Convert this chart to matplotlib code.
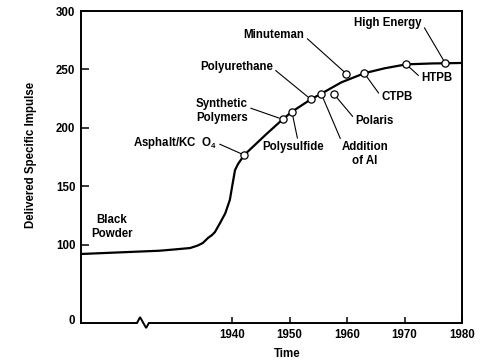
import matplotlib
matplotlib.use("Agg")
import matplotlib.pyplot as plt

# curve (year, delivered specific impulse)
curve_years = [1913.7, 1927.4, 1930.0, 1932.7, 1934.0, 1934.9, 1935.8, 1936.5,
               1937.0, 1937.9, 1938.8, 1939.6, 1940.0, 1940.5, 1941.0, 1942.1,
               1946.0, 1948.8, 1950.4, 1953.7, 1955.5, 1959.0, 1963.0, 1966.5,
               1970.3, 1975.0, 1977.1, 1980.0]
curve_impulse = [92.3, 95.1, 96.2, 97.4, 99.5, 101.7, 106.0, 108.5,
                 111.0, 118.8, 127.0, 138.5, 150.0, 164.0, 169.0, 176.9,
                 195.0, 207.4, 213.9, 224.5, 229.3, 239.0, 246.8, 251.0,
                 254.4, 255.2, 255.3, 255.6]

# milestones (open circles)
labels = ["Asphalt/KC  O$_4$", "Synthetic\nPolymers", "Polysulfide", "Polyurethane",
          "Addition\nof Al", "Polaris", "Minuteman", "CTPB", "HTPB", "High Energy"]
years = [1942.1, 1948.8, 1950.4, 1953.7, 1955.5, 1957.7, 1959.9, 1963.0, 1970.3, 1977.1]
impulse = [176.9, 207.4, 213.9, 224.5, 229.3, 229.0, 246.2, 246.8, 254.4, 255.3]

# where each label sits: (x, y, ha, relpos of leader start)
label_pos = [
    (1937.35, 187.2, "right", (1, 0.5)),
    (1933.7, 214.5, "left", (1, 0.65)),
    (1950.6, 183.8, "center", (0.58, 1)),
    (1940.75, 252.1, "center", (1, 0.4)),
    (1963.1, 177.8, "center", (0, 1)),
    (1964.8, 206.0, "center", (0, 0.6)),
    (1947.3, 279.5, "center", (1, 0.4)),
    (1968.7, 226.5, "center", (0, 0.5)),
    (1975.6, 242.7, "center", (0, 0.5)),
    (1967.1, 289.7, "center", (1, 0.5)),
]

ytick_vals = [36.5, 100, 150, 200, 250, 300]
ytick_labels = ["0", "100", "150", "200", "250", "300"]
xtick_vals = [1940, 1950, 1960, 1970, 1980]

plt.rcParams["font.family"] = ["Liberation Sans", "DejaVu Sans"]
plt.rcParams["font.weight"] = "bold"
plt.rcParams["mathtext.default"] = "regular"
fs = 8.3

fig = plt.figure(figsize=(4.8, 3.62), dpi=100)
ax = fig.add_axes([0.16875, 0.1077, 0.79375, 0.8619])

ax.plot(curve_years, curve_impulse, color="black", lw=1.6, zorder=3)
ax.plot(years, impulse, "o", ms=5.2, mfc="white", mec="black", mew=0.9, zorder=5)

for lab, x, y, (tx, ty, ha, rp) in zip(labels, years, impulse, label_pos):
    ax.annotate(lab, xy=(x, y), xytext=(tx, ty), ha=ha, va="center",
                fontsize=fs, fontweight="bold", linespacing=1.15,
                arrowprops=dict(arrowstyle="-", color="black", lw=0.8,
                                relpos=rp, shrinkA=0, shrinkB=2.6),
                zorder=4)

ax.text(1919.1, 115.4, "Black\nPowder", ha="center", va="center",
        fontsize=fs, fontweight="bold", linespacing=1.15)

ax.set_xlim(1913.7, 1980)
ax.set_ylim(33.3, 300)
ax.set_xticks(xtick_vals)
ax.set_xticklabels([str(v) for v in xtick_vals], fontsize=fs, fontweight="bold")
ax.set_yticks(ytick_vals)
ax.set_yticklabels(ytick_labels, fontsize=fs, fontweight="bold")
ax.tick_params(axis="y", direction="in", length=6, width=1.1, pad=4)
ax.tick_params(axis="x", direction="in", length=4.5, width=1.1, pad=4)
ax.yaxis.get_major_ticks()[0].tick1line.set_visible(False)

for s in ["left", "top", "right"]:
    ax.spines[s].set_linewidth(1.4)
ax.spines["bottom"].set_visible(False)

# bottom axis with the break mark
bx = [0, 0.147, 0.155, 0.171, 0.178, 1]
by = [0, 0, 0.019, -0.016, 0, 0]
ax.plot(bx, by, color="black", lw=1.4, transform=ax.transAxes, clip_on=False,
        solid_joinstyle="miter", zorder=6)

ax.set_ylabel("Delivered Specific Impulse", fontsize=fs, fontweight="bold")
ax.yaxis.set_label_coords(-0.115, 0.54)
ax.set_xlabel("Time", fontsize=fs, fontweight="bold")
ax.xaxis.set_label_coords(0.54, -0.08)

fig.savefig("out.png", dpi=100)
